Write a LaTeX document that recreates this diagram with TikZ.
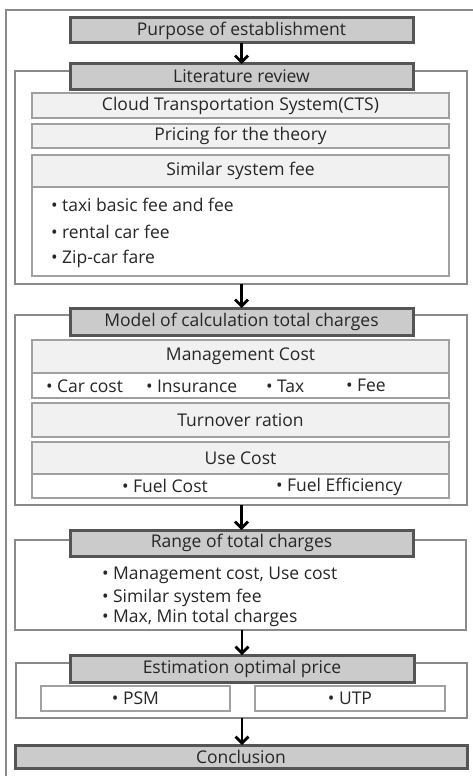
\documentclass[tikz,border=0pt]{standalone}
\usepackage{fontspec}
\setmainfont{Open Sans}
\usetikzlibrary{arrows.meta}

\definecolor{headfill}{HTML}{CBCBCB}
\definecolor{headline}{HTML}{555555}
\definecolor{subfill}{HTML}{F1F1F1}
\definecolor{subline}{HTML}{A0A0A0}
\definecolor{frameline}{HTML}{8A8A8A}

% box from (x1,y1) to (x2,y2), y measured downwards
\newcommand\bx[7]{\node[#2, minimum width={#5-#3}, minimum height={#6-#4}] (#1) at ({(#3+#5)/2},{(#4+#6)/2}) {#7};}

\begin{document}
\begin{tikzpicture}[x=1pt, y=-1pt,
  every node/.style={inner sep=0pt, outer sep=0pt, font=\fontsize{17.5}{19}\selectfont, text=black!85},
  headbox/.style={draw=headline, line width=3pt, fill=headfill},
  subbox/.style={draw=subline, line width=1.8pt, fill=subfill},
  itembox/.style={draw=subline, line width=1.8pt, fill=white},
  groupbox/.style={draw=frameline, line width=2.4pt, fill=white},
  item/.style={anchor=west},
  flow/.style={line width=2.8pt, -{Straight Barb[length=6.5pt, width=13pt, line width=2.8pt]}}]
\useasboundingbox (0,0) rectangle (473,776);
\clip (0,0) rectangle (473,776);

% outer frame
\draw[frameline, line width=2.4pt] (6,780) -- (6,10) -- (480,10);

% purpose
\bx{purpose}{headbox}{70}{18}{413}{43}{Purpose of establishment}

% literature review
\bx{litbox}{groupbox}{15}{71}{467}{284}{}
\bx{lit}{headbox}{70}{64}{413}{89}{Literature review}
\bx{cts}{subbox}{32}{93}{449}{118}{Cloud Transportation System(CTS)}
\bx{pricing}{subbox}{32}{124}{449}{148}{Pricing for the theory}
\bx{simlist}{itembox}{32}{187}{449}{276}{}
\bx{simhead}{subbox}{32}{155}{449}{187}{Similar system fee}
\node[item] (s1) at (51,205) {• taxi basic fee and fee};
\node[item] (s2) at (51,232) {• rental car fee};
\node[item] (s3) at (51,259) {• Zip-car fare};

% model of calculation
\bx{modelbox}{groupbox}{15}{315}{467}{505}{}
\bx{model}{headbox}{70}{308}{413}{335}{Model of calculation total charges}
\bx{mgmtitems}{itembox}{32}{373}{449}{398}{}
\bx{mgmt}{subbox}{32}{340}{449}{373}{Management Cost}
\node[item] (m1) at (46,386) {• Car cost};
\node[item] (m2) at (146,386) {• Insurance};
\node[item] (m3) at (266,386) {• Tax};
\node[item] (m4) at (346,385) {• Fee};
\bx{turnover}{subbox}{32}{403}{449}{437}{Turnover ration}
\bx{useitems}{itembox}{32}{474}{449}{498}{}
\bx{use}{subbox}{32}{442}{449}{474}{Use Cost}
\node[item] (u1) at (122,486) {• Fuel Cost};
\node[item] (u2) at (276,487) {• Fuel Efficiency};

% range of total charges
\bx{rangebox}{groupbox}{15}{540}{466}{630}{}
\bx{range}{headbox}{70}{530}{413}{556}{Range of total charges}
\node[item] (r1) at (102,575) {• Management cost, Use cost};
\node[item] (r2) at (102,598) {• Similar system fee};
\node[item] (r3) at (102,618) {• Max, Min total charges};

% estimation
\bx{estbox}{groupbox}{16}{663}{467}{718}{}
\bx{est}{headbox}{70}{655}{414}{682}{Estimation optimal price}
\bx{psm}{itembox}{41}{686}{230}{711}{• PSM}
\bx{utp}{itembox}{255}{686}{445}{711}{• UTP}

% conclusion
\bx{concl}{headbox}{15}{745}{467}{768}{Conclusion}

% flow arrows
\draw[flow] (purpose.south) -- (lit.north);
\draw[flow] (model.north |- litbox.south) -- (model.north);
\draw[flow] (range.north |- modelbox.south) -- (range.north);
\draw[flow] (est.north |- rangebox.south) -- (est.north);
\draw[flow] (est.south |- estbox.south) -- (est.south |- concl.north);
\end{tikzpicture}
\end{document}
